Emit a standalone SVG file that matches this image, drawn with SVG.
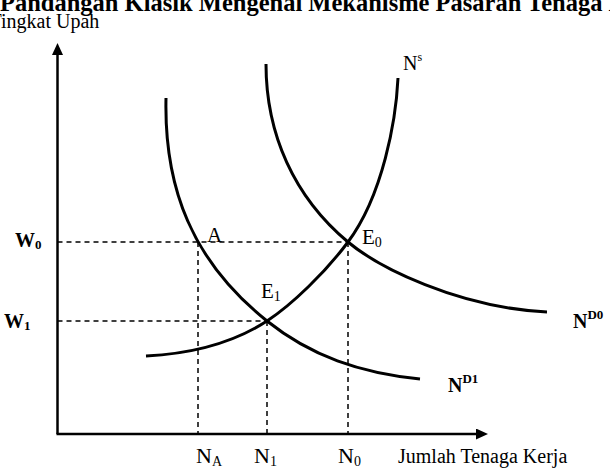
<svg xmlns="http://www.w3.org/2000/svg" width="610" height="476" viewBox="0 0 610 476">
<style>
text{font-family:"Liberation Serif","Times New Roman",serif;fill:#000}
.b{font-weight:bold}
.axis{stroke:#000;stroke-width:2.5;fill:none}
.curve{stroke:#000;stroke-width:3;fill:none}
.dash{stroke:#000;stroke-width:1.5;stroke-dasharray:5,4;fill:none}
</style>
<defs>
<marker id="arr" markerUnits="userSpaceOnUse" markerWidth="12" markerHeight="12" refX="0" refY="5.5" orient="auto">
<path d="M0,0 L12,5.5 L0,11 z" fill="#000"/>
</marker>
</defs>
<rect width="610" height="476" fill="#fff"/>
<text id="title" class="b" x="0" y="11" font-size="24.5">Pandangan Klasik Mengenai Mekanisme Pasaran Tenaga Kerja</text>
<g id="axes">
<text x="-10.5" y="28" font-size="20">Tingkat Upah</text>
<line class="axis" x1="57.5" y1="434" x2="57.5" y2="55" marker-end="url(#arr)"/>
<line class="axis" x1="56.5" y1="434" x2="476" y2="434" marker-end="url(#arr)"/>
<text x="398" y="463" font-size="20">Jumlah Tenaga Kerja</text>
</g>
<g id="connectors">
<path class="dash" d="M57.5,242 H348 M57.5,321 H267 M198,242 V434 M267,321 V434 M348,242 V434"/>
</g>
<g id="ND1">
<path class="curve" d="M166,98 C164,188 192,261 267,321 C310.75,356 360,373 420,379"/>
<text class="b" x="448" y="392" font-size="20">N<tspan font-size="13" dy="-9">D1</tspan></text>
</g>
<g id="ND0">
<path class="curve" d="M266,64 C266,134 294,197 348,242 C378,267 457,307.5 547,312"/>
<text class="b" x="573" y="328" font-size="20">N<tspan font-size="13" dy="-9">D0</tspan></text>
</g>
<g id="NS">
<path class="curve" d="M146,356 C191,353.75 232,343.75 267,321 C292,304.75 326,271.7 348,242 C383,195 396,120 398,78"/>
<text x="403" y="70" font-size="20">N<tspan font-size="12" dy="-9">s</tspan></text>
</g>
<g id="A"><text x="207" y="242" font-size="21">A</text></g>
<g id="E0"><text x="362" y="244" font-size="21">E<tspan font-size="14" dy="3">0</tspan></text></g>
<g id="E1"><text x="261" y="298" font-size="21">E<tspan font-size="14" dy="3">1</tspan></text></g>
<g id="W0"><text class="b" x="15" y="247" font-size="20">W<tspan font-size="13" dy="2">0</tspan></text></g>
<g id="W1"><text class="b" x="4" y="328" font-size="20">W<tspan font-size="13" dy="2">1</tspan></text></g>
<g id="NA"><text x="196" y="463" font-size="22">N<tspan font-size="14" dy="3">A</tspan></text></g>
<g id="N1"><text x="254" y="463" font-size="22">N<tspan font-size="14" dy="3">1</tspan></text></g>
<g id="N0"><text x="338" y="463" font-size="22">N<tspan font-size="14" dy="3">0</tspan></text></g>
</svg>
